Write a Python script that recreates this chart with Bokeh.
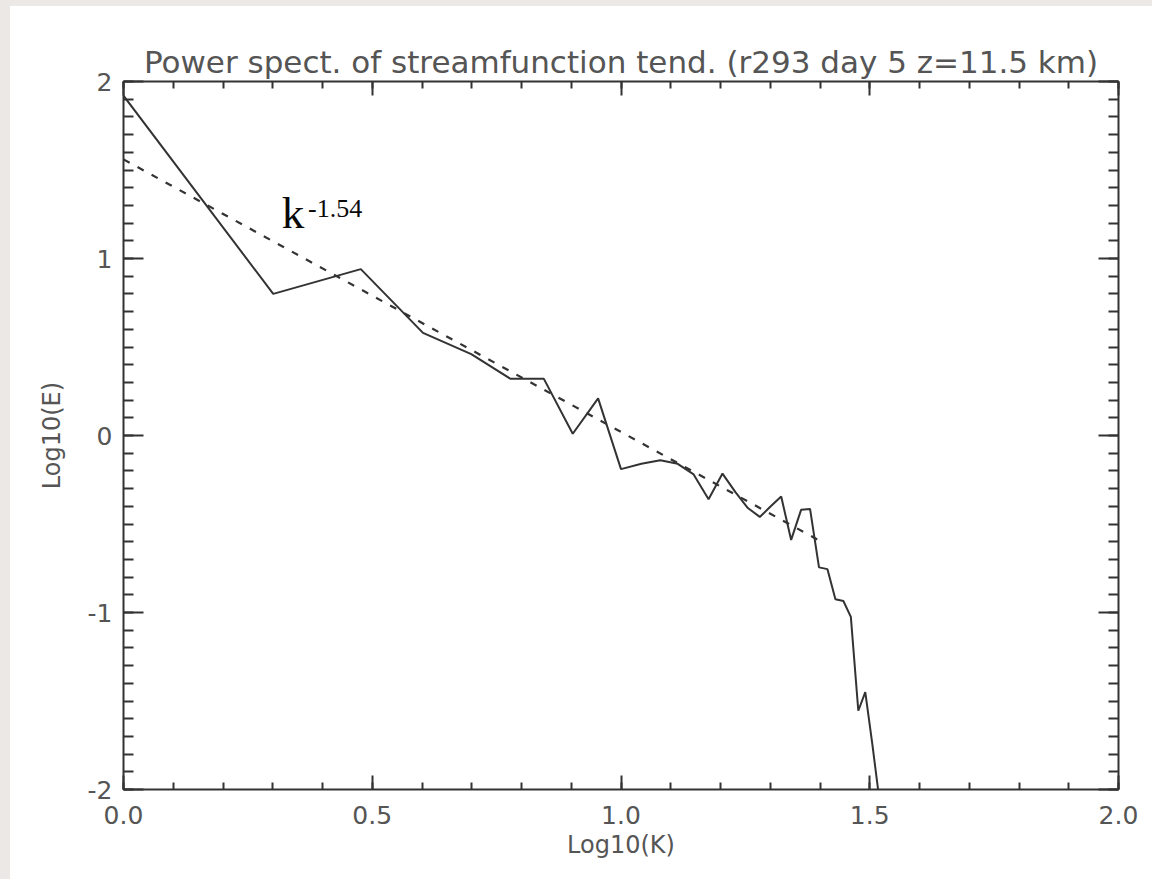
from bokeh.plotting import figure
from bokeh.models import LinearAxis, FixedTicker, Label, Range1d, CustomJSTickFormatter, Spacer
from bokeh.layouts import row, column
from bokeh.embed import file_html
from bokeh.resources import INLINE

# ---- data ----
log_k = [0.000, 0.301, 0.477, 0.602, 0.699, 0.778, 0.845, 0.903, 0.954, 1.000,
         1.041, 1.079, 1.114, 1.146, 1.176, 1.204, 1.230, 1.255, 1.279, 1.301,
         1.322, 1.342, 1.362, 1.380, 1.398, 1.415, 1.431, 1.447, 1.462, 1.477,
         1.491, 1.505, 1.519]
log_e = [1.92, 0.80, 0.94, 0.58, 0.46, 0.32, 0.32, 0.01, 0.21, -0.19,
         -0.16, -0.14, -0.16, -0.22, -0.36, -0.215, -0.32, -0.41, -0.46, -0.40,
         -0.345, -0.59, -0.42, -0.415, -0.745, -0.755, -0.925, -0.935, -1.025, -1.555,
         -1.45, -1.74, -2.05]
fit_x = [0.0, 1.404]
fit_y = [1.56, -0.602]

x_ticks = [0.0, 0.5, 1.0, 1.5, 2.0]
x_tick_labels = ["0.0", "0.5", "1.0", "1.5", "2.0"]
x_minor = [i / 10 for i in range(21)]
y_ticks = [-2, -1, 0, 1, 2]
y_tick_labels = ["-2", "-1", "0", "1", "2"]
y_minor = [i / 10 - 2 for i in range(41)]

title_text = "Power spect. of streamfunction tend. (r293 day 5 z=11.5 km)"
x_title = "Log10(K)"
y_title = "Log10(E)"

AX = "#333333"
TXT = "#555555"
FONT = "DejaVu Sans"
GRAY = "#ebe8e5"

p = figure(width=1142, height=873, x_range=Range1d(0, 2), y_range=Range1d(-2, 2),
           output_backend="svg", toolbar_location=None,
           x_axis_location=None, y_axis_location=None,
           min_border_left=113, min_border_right=34,
           min_border_top=75, min_border_bottom=90,
           background_fill_color="white", border_fill_color="white",
           outline_line_color=None)
p.xgrid.visible = False
p.ygrid.visible = False

p.title.text = title_text
p.title.align = "center"
p.title.text_font = FONT
p.title.text_font_size = "31px"
p.title.text_font_style = "normal"
p.title.text_color = TXT
p.title.standoff = 3


def style(ax, tick_in, labels=True):
    ax.axis_line_color = AX
    ax.axis_line_width = 2
    ax.major_tick_line_color = AX
    ax.minor_tick_line_color = AX
    ax.major_tick_line_width = 2
    ax.minor_tick_line_width = 2
    ax.major_tick_in = tick_in
    ax.major_tick_out = 0
    ax.minor_tick_in = tick_in // 2
    ax.minor_tick_out = 0
    ax.major_label_text_font = FONT
    ax.major_label_text_font_size = "25px"
    ax.major_label_text_color = TXT
    ax.axis_label_text_font = FONT
    ax.axis_label_text_font_size = "24px"
    ax.axis_label_text_font_style = "normal"
    ax.axis_label_text_color = TXT
    if not labels:
        ax.formatter = CustomJSTickFormatter(code="return ''")
        ax.major_label_standoff = 0


xb = LinearAxis(ticker=FixedTicker(ticks=x_ticks, minor_ticks=x_minor),
                major_label_overrides=dict(zip(x_ticks, x_tick_labels)),
                axis_label=x_title)
style(xb, 14)
xb.major_label_standoff = 16
xb.axis_label_standoff = 4
p.add_layout(xb, "below")

xt = LinearAxis(ticker=FixedTicker(ticks=x_ticks, minor_ticks=x_minor))
style(xt, 14, labels=False)
p.add_layout(xt, "above")

yl = LinearAxis(ticker=FixedTicker(ticks=y_ticks, minor_ticks=y_minor),
                major_label_overrides=dict(zip(y_ticks, y_tick_labels)),
                axis_label=y_title)
style(yl, 20)
yl.major_label_standoff = 11
yl.axis_label_standoff = 19
p.add_layout(yl, "left")

yr = LinearAxis(ticker=FixedTicker(ticks=y_ticks, minor_ticks=y_minor))
style(yr, 20, labels=False)
p.add_layout(yr, "right")

p.line(log_k, log_e, line_color="#333333", line_width=2)
p.line(fit_x, fit_y, line_color="#333333", line_width=2.2, line_dash="7 9")

p.add_layout(Label(x=0.318, y=1.257, text="k", text_align="left",
                   text_baseline="alphabetic", text_font="Liberation Serif",
                   text_font_size="45px", text_color="#0a0a0a"))
p.add_layout(Label(x=0.371, y=1.283, text="-1.54", text_align="left",
                   text_baseline="alphabetic", text_font="Liberation Serif",
                   text_font_size="26px", text_color="#0a0a0a"))

left_strip = Spacer(width=10, height=879, styles={"background-color": GRAY})
top_strip = Spacer(width=1142, height=6, styles={"background-color": GRAY})
layout = row(left_strip, column(top_strip, p))

open("out.html", "w").write(file_html(layout, INLINE))
